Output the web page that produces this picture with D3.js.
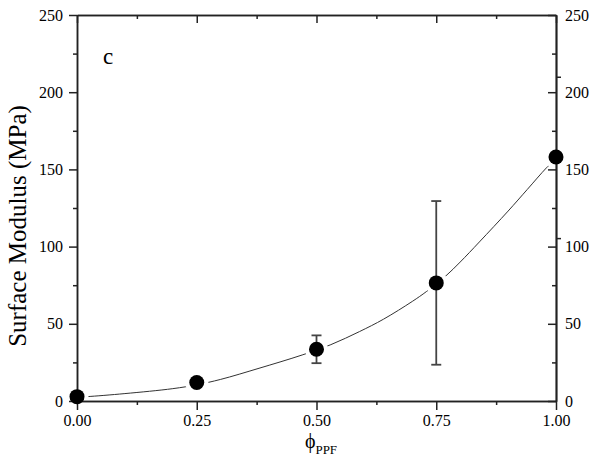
<!DOCTYPE html>
<html>
<head>
<meta charset="utf-8">
<script src="https://cdn.jsdelivr.net/npm/d3@7"></script>
<style>
  body { margin: 0; background: #fff; }
</style>
</head>
<body>
<svg id="chart" width="600" height="470"></svg>
<script>
// measured points
const phi = [0.00, 0.25, 0.50, 0.75, 1.00];
const modulus = [2.8, 12, 33.5, 76.5, 158];
const errBar = [0, 0, 9, 53, 0];

// fitted curve
const fitPhi = [0.00, 0.02, 0.10, 0.20, 0.25, 0.30, 0.38, 0.47, 0.53, 0.59, 0.64, 0.70, 0.73, 0.77, 0.80, 0.84, 0.90, 0.94, 0.98, 1.00];
const fitMod = [2.5, 2.8, 4.8, 8.0, 10.5, 14.0, 21.2, 29.8, 36.5, 45.0, 53.0, 64.5, 71.0, 81.0, 90.0, 103, 123, 137, 151, 157];

const xTicks = [0, 0.25, 0.5, 0.75, 1];
const xMinor = [0.125, 0.375, 0.625, 0.875];
const yTicks = [0, 50, 100, 150, 200, 250];
const yMinor = [25, 75, 125, 175, 225];
const rightStrayTicks = [210, 105.5];

const serif = '"Liberation Serif", "Times New Roman", serif';

const svg = d3.select('#chart');
const margin = { top: 15, right: 44, bottom: 69, left: 77 };
const width = 600, height = 470;

const x = d3.scaleLinear().domain([0, 1]).range([margin.left, width - margin.right]);
const y = d3.scaleLinear().domain([0, 250]).range([height - margin.bottom, margin.top]);

const line = d3.line()
  .x((d, i) => x(fitPhi[i]))
  .y(d => y(d))
  .curve(d3.curveCatmullRom);

svg.append('path')
  .datum(fitMod)
  .attr('fill', 'none')
  .attr('stroke', '#333')
  .attr('stroke-width', 1)
  .attr('d', line);

// white gap round each marker, like the original plot
svg.selectAll('.halo')
  .data(phi)
  .enter()
  .append('circle')
  .attr('cx', d => x(d))
  .attr('cy', (d, i) => y(modulus[i]))
  .attr('r', 11.5)
  .attr('fill', '#fff');

const axisStyle = g => {
  g.attr('font-family', null).attr('font-size', null);
  g.select('.domain').attr('stroke', '#222').attr('stroke-width', 1.5);
  g.selectAll('.tick line').attr('stroke', '#222').attr('stroke-width', 1.5);
  g.selectAll('.tick text')
    .style('font-family', serif)
    .style('font-size', '16px')
    .attr('fill', '#000');
};

const fmtX = d3.format('.2f');

svg.append('g')
  .attr('transform', `translate(0,${y(0)})`)
  .call(d3.axisBottom(x).tickValues(xMinor).tickSize(4).tickSizeOuter(0).tickFormat(''))
  .call(axisStyle);
svg.append('g')
  .attr('transform', `translate(0,${y(0)})`)
  .call(d3.axisBottom(x).tickValues(xTicks).tickSize(9).tickSizeOuter(0).tickPadding(5).tickFormat(fmtX))
  .call(axisStyle);

svg.append('g')
  .attr('transform', `translate(0,${y(250)})`)
  .call(d3.axisTop(x).tickValues(xMinor).tickSize(-4).tickSizeOuter(0).tickFormat(''))
  .call(axisStyle);
svg.append('g')
  .attr('transform', `translate(0,${y(250)})`)
  .call(d3.axisTop(x).tickValues(xTicks).tickSize(-8).tickSizeOuter(0).tickFormat(''))
  .call(axisStyle);

svg.append('g')
  .attr('transform', `translate(${x(0)},0)`)
  .call(d3.axisLeft(y).tickValues(yMinor).tickSize(4).tickSizeOuter(0).tickFormat(''))
  .call(axisStyle);
svg.append('g')
  .attr('transform', `translate(${x(0)},0)`)
  .call(d3.axisLeft(y).tickValues(yTicks).tickSize(8).tickSizeOuter(0).tickPadding(6))
  .call(axisStyle);

svg.append('g')
  .attr('transform', `translate(${x(1)},0)`)
  .call(d3.axisRight(y).tickValues(yMinor).tickSize(-4).tickSizeOuter(0).tickFormat(''))
  .call(axisStyle);
svg.append('g')
  .attr('transform', `translate(${x(1)},0)`)
  .call(d3.axisRight(y).tickValues(yTicks).tickSize(-8).tickSizeOuter(0).tickPadding(9))
  .call(axisStyle);
svg.append('g')
  .attr('transform', `translate(${x(1)},0)`)
  .call(d3.axisRight(y).tickValues(rightStrayTicks).tickSize(5).tickSizeOuter(0).tickFormat(''))
  .call(axisStyle);

// error bars
const bars = svg.selectAll('.err')
  .data(phi.map((p, i) => ({ p, v: modulus[i], e: errBar[i] })).filter(d => d.e > 0))
  .enter()
  .append('g')
  .attr('class', 'err')
  .attr('stroke', '#444')
  .attr('stroke-width', 1.8);
bars.append('line')
  .attr('x1', d => x(d.p)).attr('x2', d => x(d.p))
  .attr('y1', d => y(d.v + d.e)).attr('y2', d => y(d.v - d.e));
bars.append('line')
  .attr('x1', d => x(d.p) - 5).attr('x2', d => x(d.p) + 5)
  .attr('y1', d => y(d.v + d.e)).attr('y2', d => y(d.v + d.e));
bars.append('line')
  .attr('x1', d => x(d.p) - 5).attr('x2', d => x(d.p) + 5)
  .attr('y1', d => y(d.v - d.e)).attr('y2', d => y(d.v - d.e));

svg.selectAll('.pt')
  .data(phi)
  .enter()
  .append('circle')
  .attr('class', 'pt')
  .attr('cx', d => x(d))
  .attr('cy', (d, i) => y(modulus[i]))
  .attr('r', 7.5)
  .attr('fill', '#000');

svg.append('text')
  .attr('transform', 'translate(26,226) rotate(-90)')
  .attr('text-anchor', 'middle')
  .style('font-family', serif)
  .style('font-size', '25px')
  .text('Surface Modulus (MPa)');

const xl = svg.append('text')
  .attr('x', 321)
  .attr('y', 448)
  .attr('text-anchor', 'middle')
  .style('font-family', serif)
  .style('font-size', '20px');
xl.append('tspan').text('ϕ');
xl.append('tspan').style('font-size', '13px').attr('dy', 6).text('PPF');

svg.append('text')
  .attr('x', 103)
  .attr('y', 64)
  .style('font-family', serif)
  .style('font-size', '23px')
  .text('c');
</script>
</body>
</html>
